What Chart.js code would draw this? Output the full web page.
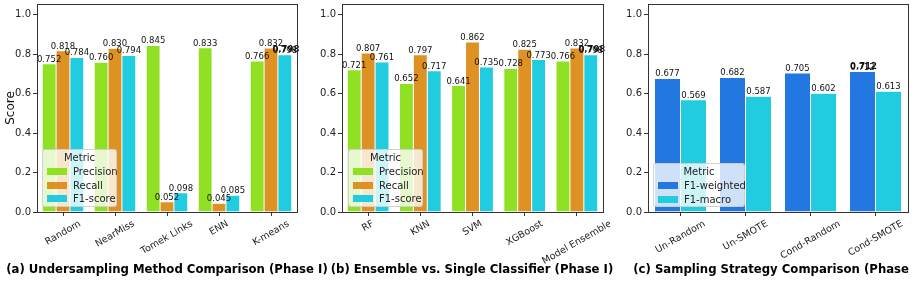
<!DOCTYPE html>
<html>
<head>
<meta charset="utf-8">
<script src="https://cdn.jsdelivr.net/npm/chart.js@4.4.1/dist/chart.umd.min.js"></script>
<style>
  html, body { margin: 0; padding: 0; background: #fff; overflow: hidden; }
  body { width: 914px; height: 282px; position: relative; font-family: "DejaVu Sans", sans-serif; }
  .panel { position: absolute; top: 0; height: 282px; }
  .title { position: absolute; top: 262px; font-weight: bold; font-size: 11.7px; white-space: nowrap; color: #000; transform: translateX(-50%); }
  .legend { position: absolute; background: rgba(255,255,255,0.78); border: 1px solid rgba(200,200,200,0.8); border-radius: 3px; font-size: 10px; color: #222; padding: 1px 4px 2px 4px; box-sizing: border-box; }
  .legend .lt { text-align: center; line-height: 14px; }
  .legend .row { line-height: 13.5px; white-space: nowrap; }
  .legend .sw { display: inline-block; width: 20px; height: 7px; margin-right: 6px; vertical-align: 0px; }
</style>
</head>
<body>
<div class="panel" style="left:0;width:310px"><canvas id="chartA" width="310" height="282"></canvas></div>
<div class="panel" style="left:305px;width:305px"><canvas id="chartB" width="305" height="282"></canvas></div>
<div class="panel" style="left:610px;width:304px"><canvas id="chartC" width="304" height="282"></canvas></div>

<div class="title" style="left:167px">(a) Undersampling Method Comparison (Phase I)</div>
<div class="title" style="left:472px">(b) Ensemble vs. Single Classifier (Phase I)</div>
<div class="title" style="left:778px">(c) Sampling Strategy Comparison (Phase I)</div>

<div class="legend" id="legendA" style="left:42px;top:149px;width:75px;height:58px"></div>
<div class="legend" id="legendB" style="left:348px;top:149px;width:75px;height:58px"></div>
<div class="legend" id="legendC" style="left:653px;top:163px;width:92px;height:44px"></div>

<script>
// Data
const yTicks = [0.0, 0.2, 0.4, 0.6, 0.8, 1.0];

const categoriesA = ['Random', 'NearMiss', 'Tomek Links', 'ENN', 'K-means'];
const seriesNamesA = ['Precision', 'Recall', 'F1-score'];
const precisionA = [0.752, 0.760, 0.845, 0.833, 0.766];
const recallA = [0.818, 0.830, 0.052, 0.045, 0.832];
const f1A = [0.784, 0.794, 0.098, 0.085, 0.798];

const categoriesB = ['RF', 'KNN', 'SVM', 'XGBoost', 'Model Ensemble'];
const seriesNamesB = ['Precision', 'Recall', 'F1-score'];
const precisionB = [0.721, 0.652, 0.641, 0.728, 0.766];
const recallB = [0.807, 0.797, 0.862, 0.825, 0.832];
const f1B = [0.761, 0.717, 0.735, 0.773, 0.798];

const categoriesC = ['Un-Random', 'Un-SMOTE', 'Cond-Random', 'Cond-SMOTE'];
const seriesNamesC = ['F1-weighted', 'F1-macro'];
const f1WeightedC = [0.677, 0.682, 0.705, 0.712];
const f1MacroC = [0.569, 0.587, 0.602, 0.613];

// best values shown in bold: [series index, category index]
const boldA = [2, 4];
const boldB = [2, 4];
const boldC = [0, 3];

const GREEN = '#90e024';
const ORANGE = '#de9224';
const CYAN = '#22cce0';
const BLUE = '#2277e0';
const FONT = '"DejaVu Sans", sans-serif';

// frame around the plot area (all four sides)
const framePlugin = {
  id: 'frame',
  afterDraw(chart) {
    const a = chart.chartArea, ctx = chart.ctx;
    ctx.save();
    ctx.strokeStyle = '#333';
    ctx.lineWidth = 1;
    ctx.strokeRect(Math.round(a.left) + 0.5, Math.round(a.top) + 0.5,
      Math.round(a.right - a.left), Math.round(a.bottom - a.top));
    ctx.restore();
  }
};

// value labels on top of bars
const valueLabels = {
  id: 'valueLabels',
  afterDatasetsDraw(chart, args, opts) {
    const ctx = chart.ctx;
    ctx.save();
    ctx.fillStyle = '#111';
    ctx.textAlign = 'center';
    ctx.textBaseline = 'bottom';
    chart.data.datasets.forEach((ds, i) => {
      chart.getDatasetMeta(i).data.forEach((bar, j) => {
        const v = ds.data[j];
        if (v == null) return;
        ctx.font = '8.5px ' + FONT;
        ctx.fillText(v.toFixed(3), bar.x, bar.y);
        if (opts.bold && opts.bold[0] === i && opts.bold[1] === j) {
          ctx.font = 'bold 8.5px ' + FONT;
          ctx.fillText(v.toFixed(3), bar.x + 1, bar.y - 0.5);
        }
      });
    });
    ctx.restore();
  }
};

// rotated x labels, centred like matplotlib (rotation=30, ha=center)
const xLabels = {
  id: 'xLabels',
  afterDraw(chart) {
    const ctx = chart.ctx, xs = chart.scales.x;
    const ang = 30 * Math.PI / 180;
    ctx.save();
    ctx.font = '9.5px ' + FONT;
    ctx.fillStyle = '#222';
    ctx.textAlign = 'center';
    ctx.textBaseline = 'middle';
    chart.data.labels.forEach((lab, i) => {
      const w = ctx.measureText(lab).width, h = 9.5;
      const bh = w * Math.sin(ang) + h * Math.cos(ang);
      const x = xs.getPixelForTick(i);
      const top = chart.chartArea.bottom + 7;
      ctx.save();
      ctx.translate(x, top + bh / 2);
      ctx.rotate(-ang);
      ctx.fillText(lab, 0, 0);
      ctx.restore();
    });
    ctx.restore();
  }
};

function makePanel(id, categories, names, series, colors, yWidth, pad, bold, showTitle) {
  const datasets = series.map((d, i) => ({
    label: names[i],
    data: d,
    backgroundColor: colors[i],
    borderColor: '#fff',
    borderWidth: 0.5,
    categoryPercentage: 0.8,
    barPercentage: 1.0
  }));
  return new Chart(document.getElementById(id), {
    type: 'bar',
    data: { labels: categories, datasets },
    plugins: [framePlugin, valueLabels, xLabels],
    options: {
      responsive: false,
      animation: false,
      layout: { padding: pad },
      plugins: {
        legend: { display: false },
        tooltip: { enabled: false },
        valueLabels: { bold }
      },
      scales: {
        x: {
          offset: true,
          border: { display: false },
          grid: { drawOnChartArea: false, color: '#333', tickLength: 4, offset: false },
          ticks: { display: false },
          afterFit(s) { s.height = 70; s.paddingLeft = 0; s.paddingRight = 0; }
        },
        y: {
          min: 0,
          max: 1.055,
          border: { display: false },
          grid: { drawOnChartArea: false, color: '#333', tickLength: 4 },
          afterBuildTicks(s) { s.ticks = yTicks.map(v => ({ value: v })); },
          ticks: {
            font: { family: FONT, size: 10 },
            color: '#222',
            padding: 2,
            callback: v => Number(v).toFixed(1)
          },
          title: {
            display: showTitle,
            text: 'Score',
            font: { family: FONT, size: 12 },
            color: '#111',
            padding: { top: 4, bottom: 0 }
          },
          afterFit(s) { s.width = yWidth; s.paddingTop = 0; s.paddingBottom = 0; }
        }
      }
    }
  });
}

makePanel('chartA', categoriesA, seriesNamesA, [precisionA, recallA, f1A],
  [GREEN, ORANGE, CYAN], 37, { top: 4, right: 13, left: 0, bottom: 0 }, boldA, true);
makePanel('chartB', categoriesB, seriesNamesB, [precisionB, recallB, f1B],
  [GREEN, ORANGE, CYAN], 37, { top: 4, right: 7, left: 0, bottom: 0 }, boldB, false);
makePanel('chartC', categoriesC, seriesNamesC, [f1WeightedC, f1MacroC],
  [BLUE, CYAN], 38, { top: 4, right: 6, left: 0, bottom: 0 }, boldC, false);

// legends drawn as html boxes in the lower left of each plot
function fillLegend(id, names, colors) {
  const el = document.getElementById(id);
  let html = '<div class="lt">Metric</div>';
  names.forEach((n, i) => {
    html += `<div class="row"><span class="sw" style="background:${colors[i]}"></span>${n}</div>`;
  });
  el.innerHTML = html;
}
fillLegend('legendA', seriesNamesA, [GREEN, ORANGE, CYAN]);
fillLegend('legendB', seriesNamesB, [GREEN, ORANGE, CYAN]);
fillLegend('legendC', seriesNamesC, [BLUE, CYAN]);
</script>
</body>
</html>
